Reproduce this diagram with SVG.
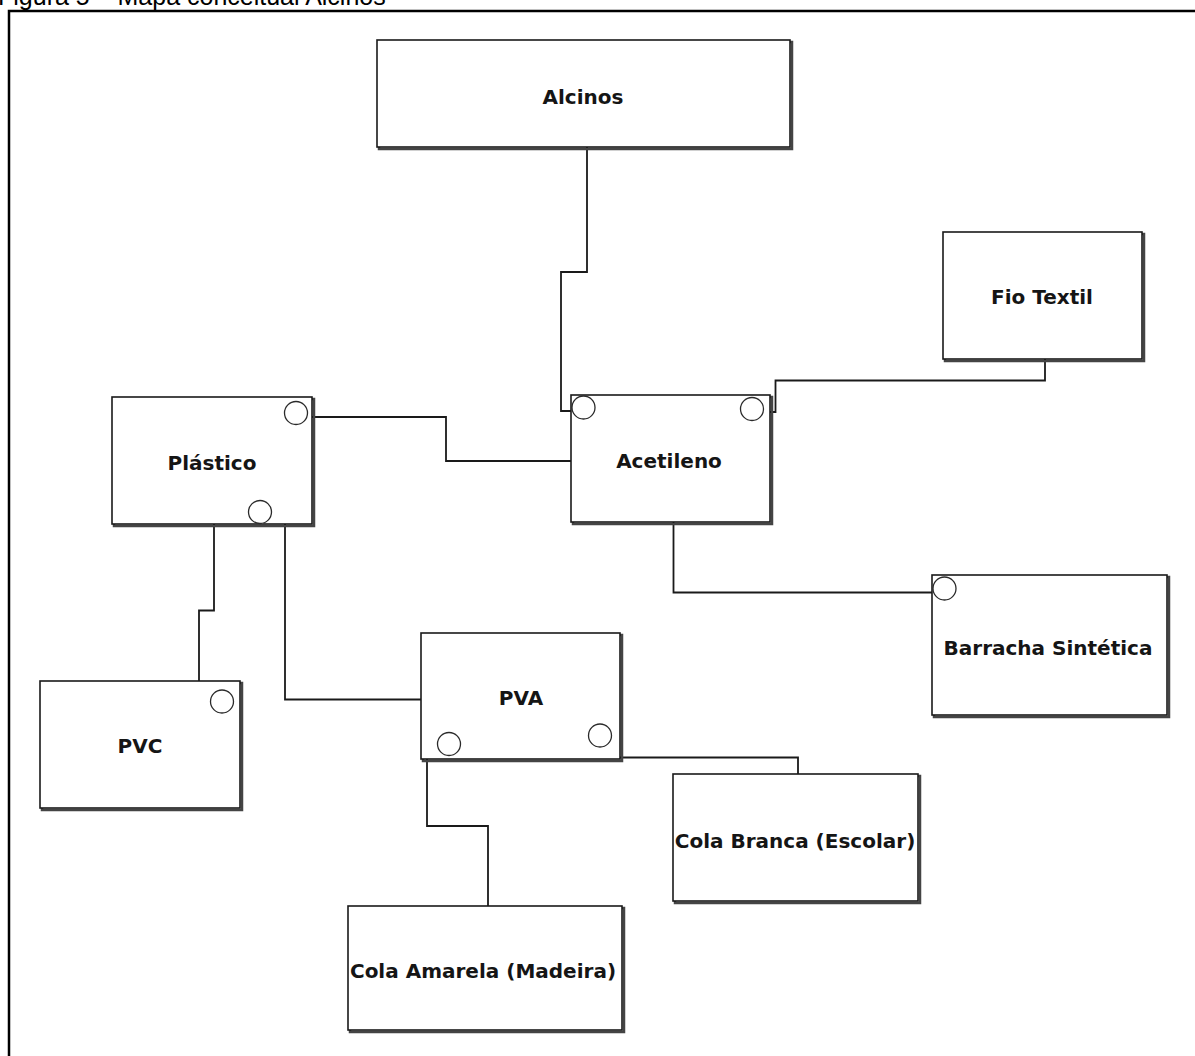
<svg xmlns="http://www.w3.org/2000/svg" width="1195" height="1056" viewBox="0 0 1195 1056">
  <style>
    .frame { fill: none; stroke: #000; stroke-width: 2.5; }
    .caption { font-family: "Liberation Sans", Arial, sans-serif; font-size: 25px; fill: #000; }
    .shadow { fill: none; stroke: #444; stroke-width: 2.5; }
    .box { fill: #fff; stroke: #1a1a1a; stroke-width: 1.6; }
    .label { font-family: "DejaVu Sans", Verdana, sans-serif; font-weight: bold; font-size: 20px; fill: #151515; text-anchor: middle; dominant-baseline: central; }
    .port { fill: #fff; stroke: #2a2a2a; stroke-width: 1.3; }
    .link { fill: none; stroke: #1a1a1a; stroke-width: 1.8; stroke-linejoin: miter; }
  </style>

  <rect width="1195" height="1056" fill="#fff"/>
  <text class="caption" x="-2" y="5">Figura 5 – Mapa conceitual Alcinos</text>
  <rect class="frame" x="9" y="11" width="1200" height="1100"/>

  <!-- connectors -->
  <g id="connectors">
    <polyline class="link" points="587,147 587,272 561,272 561,411 572,411"/>
    <polyline class="link" points="1045,359 1045,380.5 775.5,380.5 775.5,412 764,412"/>
    <polyline class="link" points="312,417 446,417 446,461 571,461"/>
    <polyline class="link" points="673.5,522 673.5,592.5 933,592.5"/>
    <polyline class="link" points="214,524 214,610.5 199,610.5 199,706 210,706"/>
    <polyline class="link" points="272,516 285,516 285,699.5 421,699.5"/>
    <polyline class="link" points="437,747.5 427,747.5 427,826 488,826 488,906"/>
    <polyline class="link" points="588,740 578.5,740 578.5,757.5 798,757.5 798,774"/>
  </g>

  <!-- concept nodes -->
  <g id="n-alcinos">
    <rect class="shadow" x="379" y="42" width="413" height="107"/>
    <rect class="box" x="377" y="40" width="413" height="107"/>
    <text class="label" x="583" y="97">Alcinos</text>
  </g>

  <g id="n-fio-textil">
    <rect class="shadow" x="945" y="234" width="199" height="127"/>
    <rect class="box" x="943" y="232" width="199" height="127"/>
    <text class="label" x="1042" y="297">Fio Textil</text>
  </g>

  <g id="n-plastico">
    <rect class="shadow" x="114" y="399" width="200" height="127"/>
    <rect class="box" x="112" y="397" width="200" height="127"/>
    <text class="label" x="212" y="463">Plástico</text>
    <circle class="port" cx="296" cy="413" r="11.5"/>
    <circle class="port" cx="260" cy="512" r="11.5"/>
  </g>

  <g id="n-acetileno">
    <rect class="shadow" x="573" y="397" width="199" height="127"/>
    <rect class="box" x="571" y="395" width="199" height="127"/>
    <text class="label" x="669" y="461">Acetileno</text>
    <circle class="port" cx="583.5" cy="407.5" r="11.5"/>
    <circle class="port" cx="752" cy="409" r="11.5"/>
  </g>

  <g id="n-barracha">
    <rect class="shadow" x="934" y="577" width="235" height="140"/>
    <rect class="box" x="932" y="575" width="235" height="140"/>
    <text class="label" x="1048" y="648">Barracha Sintética</text>
    <circle class="port" cx="944.5" cy="588.5" r="11.5"/>
  </g>

  <g id="n-pva">
    <rect class="shadow" x="423" y="635" width="199" height="126"/>
    <rect class="box" x="421" y="633" width="199" height="126"/>
    <text class="label" x="521" y="698">PVA</text>
    <circle class="port" cx="449" cy="744" r="11.5"/>
    <circle class="port" cx="600" cy="735.5" r="11.5"/>
  </g>

  <g id="n-pvc">
    <rect class="shadow" x="42" y="683" width="200" height="127"/>
    <rect class="box" x="40" y="681" width="200" height="127"/>
    <text class="label" x="140" y="746">PVC</text>
    <circle class="port" cx="222" cy="701.5" r="11.5"/>
  </g>

  <g id="n-cola-branca">
    <rect class="shadow" x="675" y="776" width="245" height="127"/>
    <rect class="box" x="673" y="774" width="245" height="127"/>
    <text class="label" x="795" y="841">Cola Branca (Escolar)</text>
  </g>

  <g id="n-cola-amarela">
    <rect class="shadow" x="350" y="908" width="274" height="124"/>
    <rect class="box" x="348" y="906" width="274" height="124"/>
    <text class="label" x="483" y="971">Cola Amarela (Madeira)</text>
  </g>
</svg>
